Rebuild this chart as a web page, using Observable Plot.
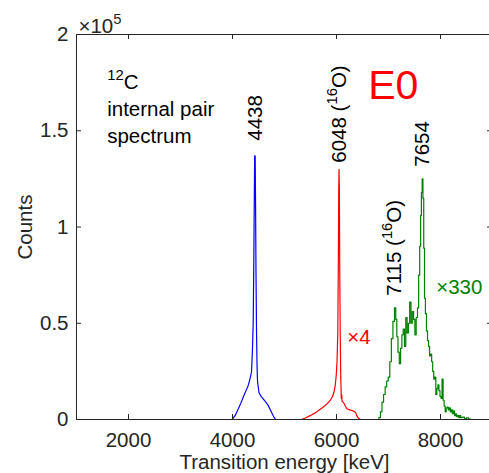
<!DOCTYPE html>
<html><head><meta charset="utf-8">
<script src="https://cdn.jsdelivr.net/npm/d3@7"></script>
<script src="https://cdn.jsdelivr.net/npm/@observablehq/plot@0.6"></script>
<style>
html,body{margin:0;padding:0;overflow:hidden;background:#fff;}
</style></head><body><div id="chart"></div>
<script>
// ---- axis ticks ----
const xTicks = [2000, 4000, 6000, 8000];
const yTicks = [0, 0.5, 1, 1.5, 2];

// ---- 4438 keV (blue), counts in units of 1e5 ----
const blueE = [1000, 3990, 4050, 4110, 4160, 4206, 4260, 4302, 4340, 4367, 4385, 4398, 4408, 4418, 4426, 4436, 4444, 4452, 4462, 4472, 4481, 4508, 4550, 4590, 4640, 4687, 4720, 4750, 4785, 4815, 4840, 9000];
const blueC = [0, 0, 0.02, 0.055, 0.085, 0.116, 0.15, 0.176, 0.215, 0.25, 0.375, 0.5, 0.76, 1.1, 1.37, 1.37, 1.1, 0.76, 0.46, 0.28, 0.2, 0.14, 0.12, 0.107, 0.09, 0.073, 0.055, 0.038, 0.018, 0.004, 0, 0];

// ---- 6048 keV (red, x4) ----
const redE = [1000, 5330, 5400, 5494, 5580, 5654, 5720, 5783, 5840, 5879, 5920, 5950, 5975, 5995, 6010, 6025, 6035, 6043, 6049, 6055, 6062, 6071, 6082, 6092, 6100, 6108, 6135, 6170, 6200, 6250, 6296, 6340, 6370, 6390, 6410, 6456, 9000];
const redC = [0, 0, 0.008, 0.02, 0.033, 0.047, 0.06, 0.073, 0.088, 0.099, 0.118, 0.14, 0.175, 0.23, 0.3, 0.45, 0.8, 1.2, 1.3, 1.2, 0.8, 0.46, 0.22, 0.11, 0.13, 0.095, 0.088, 0.07, 0.056, 0.05, 0.047, 0.042, 0.035, 0.02, 0.01, 0, 0];

// ---- 7654 keV (green, x330), histogram ----
const greenE = [1000, 6800, 6830, 6860, 6890, 6920, 6950, 6980, 7010, 7040, 7070, 7100, 7130, 7150, 7170, 7195, 7220, 7245, 7270, 7295, 7320, 7345, 7370, 7395, 7420, 7445, 7470, 7495, 7520, 7545, 7570, 7590, 7610, 7625, 7640, 7655, 7670, 7685, 7700, 7720, 7740, 7760, 7780, 7800, 7820, 7840, 7860, 7880, 7900, 7920, 7940, 7960, 7980, 8000, 8020, 8040, 8060, 8080, 8100, 8120, 8140, 8160, 8180, 8200, 8220, 8240, 8260, 8280, 8300, 8320, 8340, 8360, 8380, 8400, 8440, 8480, 8520, 8560, 8600, 9000];
const greenC = [0, 0, 0.01, 0.04, 0.09, 0.13, 0.17, 0.2, 0.22, 0.3, 0.42, 0.51, 0.58, 0.52, 0.43, 0.35, 0.29, 0.37, 0.44, 0.47, 0.38, 0.53, 0.45, 0.5, 0.61, 0.5, 0.56, 0.52, 0.44, 0.53, 0.58, 0.75, 0.9, 1.06, 1.18, 1.25, 1.15, 0.89, 0.63, 0.55, 0.46, 0.41, 0.38, 0.33, 0.34, 0.3, 0.25, 0.21, 0.22, 0.13, 0.16, 0.18, 0.15, 0.12, 0.11, 0.21, 0.1, 0.07, 0.04, 0.06, 0.065, 0.05, 0.06, 0.04, 0.05, 0.03, 0.045, 0.02, 0.03, 0.015, 0.02, 0.01, 0.02, 0.01, 0.012, 0.005, 0.008, 0.002, 0, 0];

// ---- annotations ----
const peakLabels = ["4438", "6048 (^{16}O)", "7654", "7115 (^{16}O)"];
const peakLabelE = [4438, 6048, 7654, 7115];
const peakLabelY = [1.448, 1.334, 1.313, 0.643];

const scaleLabels = ["\u00d74", "\u00d7330"];
const scaleLabelE = [6206, 7917];
const scaleLabelY = [0.4255, 0.685];
const scaleColors = ["#ff0000", "#008000"];

const infoLines = ["^{12}C", "internal pair", "spectrum"];
const infoE = [1590, 1590, 1590];
const infoY = [1.752, 1.611, 1.471];

const e0Label = ["E0"];
const e0E = [6609];
const e0Y = [1.733];

const toRows = (E, C) => E.map((e, i) => ({e, c: C[i]}));
const blue = toRows(blueE, blueC);
const red = toRows(redE, redC);
const green = toRows(greenE, greenC);
const peakRows = peakLabels.map((t, i) => ({t, e: peakLabelE[i], y: peakLabelY[i]}));
const scaleRows = scaleLabels.map((t, i) => ({t, e: scaleLabelE[i], y: scaleLabelY[i], c: scaleColors[i]}));
const infoRows = infoLines.map((t, i) => ({t, e: infoE[i], y: infoY[i]}));
const e0Rows = e0Label.map((t, i) => ({t, e: e0E[i], y: e0Y[i]}));

const ink = "#262626";
const W = 493, H = 473, mL = 76, mR = 1, mT = 34, mB = 54;
const plotW = W - mL - mR, plotH = H - mT - mB, tick = 5;
const chart = Plot.plot({
  width: W,
  height: H,
  marginLeft: mL,
  marginRight: mR,
  marginTop: mT,
  marginBottom: mB,
  style: {fontFamily: "'Liberation Sans', Arial, Helvetica, sans-serif", fontSize: "20.5px", color: ink, background: "#fff", maxWidth: "none", overflow: "visible"},
  x: {domain: [1000, 9000]},
  y: {domain: [0, 2]},
  marks: [
    Plot.line(blue, {x: "e", y: "c", stroke: "#0000ff", strokeWidth: 1.2}),
    Plot.line(green, {x: "e", y: "c", stroke: "#008000", strokeWidth: 1.2, curve: "step"}),
    Plot.line(red, {x: "e", y: "c", stroke: "#ff0000", strokeWidth: 1.2}),
    Plot.frame({stroke: ink}),
    // inward ticks on all four sides
    Plot.ruleX(xTicks, {x: d => d, insetTop: plotH - tick, stroke: ink}),
    Plot.ruleX(xTicks, {x: d => d, insetBottom: plotH - tick, stroke: ink}),
    Plot.ruleY(yTicks, {y: d => d, insetRight: plotW - tick, stroke: ink}),
    Plot.ruleY(yTicks, {y: d => d, insetLeft: plotW - tick, stroke: ink}),
    Plot.axisX(xTicks, {anchor: "bottom", tickSize: 0, tickPadding: 13, tickFormat: d => String(d), label: null, fill: ink}),
    Plot.axisY(yTicks, {anchor: "left", tickSize: 0, tickPadding: 8, tickFormat: d => String(d), label: null, fill: ink}),
    Plot.text(["\u00d710^{5}"], {frameAnchor: "top-left", text: d => d, dx: 2, dy: -8, textAnchor: "start", lineAnchor: "middle", fill: ink}),
    Plot.text(["Counts"], {frameAnchor: "left", text: d => d, dx: -51, rotate: -90, textAnchor: "middle", lineAnchor: "middle", fill: ink}),
    Plot.text(["Transition energy [keV]"], {frameAnchor: "bottom", text: d => d, dy: 43, textAnchor: "middle", lineAnchor: "middle", fill: ink}),
    Plot.text(peakRows, {x: "e", y: "y", text: "t", rotate: -90, textAnchor: "start", lineAnchor: "middle", fill: "#000"}),
    Plot.text(scaleRows, {x: "e", y: "y", text: "t", fill: d => d.c, textAnchor: "start", lineAnchor: "middle"}),
    Plot.text(infoRows, {x: "e", y: "y", text: "t", textAnchor: "start", lineAnchor: "middle", fill: "#000"}),
    Plot.text(e0Rows, {x: "e", y: "y", text: "t", textAnchor: "start", lineAnchor: "middle", fill: "#ff0000", fontSize: 41})
  ]
});
document.getElementById("chart").appendChild(chart);

// superscripts: turn "^{..}" into raised tspans
chart.querySelectorAll("text").forEach(t => {
  const targets = t.querySelectorAll("tspan").length ? [...t.querySelectorAll("tspan")] : [t];
  targets.forEach(el => {
    const s = el.textContent;
    if (!s.includes("^{")) return;
    const fs = parseFloat(getComputedStyle(el).fontSize) || 20.5;
    const re = /\^\{([^}]*)\}/g;
    const parts = [];
    let last = 0, m;
    while ((m = re.exec(s))) {
      if (m.index > last) parts.push([s.slice(last, m.index), false]);
      parts.push([m[1], true]);
      last = re.lastIndex;
    }
    if (last < s.length) parts.push([s.slice(last), false]);
    el.textContent = "";
    let shifted = false;
    parts.forEach(([str, sup]) => {
      const ts = document.createElementNS("http://www.w3.org/2000/svg", "tspan");
      ts.textContent = str;
      if (sup) { ts.setAttribute("font-size", (0.72 * fs).toFixed(1)); ts.setAttribute("dy", (-0.42 * fs).toFixed(1)); shifted = true; }
      else if (shifted) { ts.setAttribute("dy", (0.42 * fs).toFixed(1)); shifted = false; }
      el.appendChild(ts);
    });
  });
});
</script>
</body></html>
